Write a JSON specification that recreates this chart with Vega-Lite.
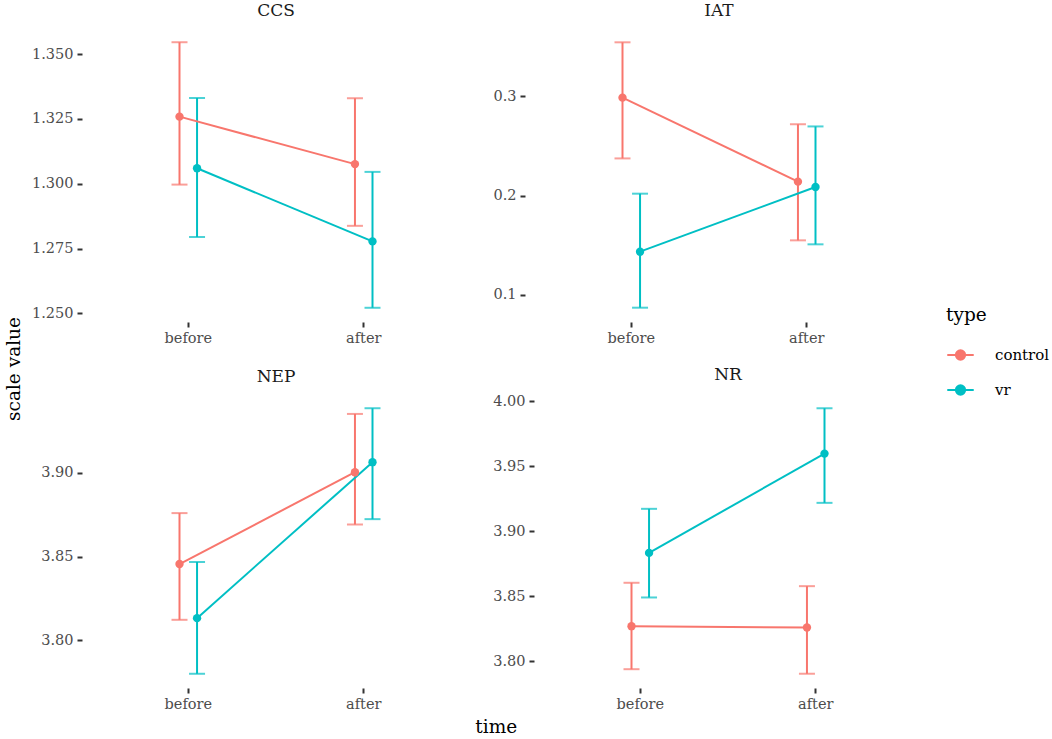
{
  "$schema": "https://vega.github.io/schema/vega-lite/v6.json",
  "background": "white",
  "padding": {"left": 4, "top": 2, "right": 5, "bottom": 0},
  "title": {"text": "scale value", "orient": "left", "anchor": "middle", "fontSize": 18.5, "font": "DejaVu Serif", "fontWeight": "normal", "color": "black", "offset": 8},
  "datasets": {
    "scores": [
      {"scale": "CCS", "time": "before", "type": "control", "mean": 1.3259, "lo": 1.2997, "hi": 1.3546},
      {"scale": "CCS", "time": "before", "type": "vr", "mean": 1.3060, "lo": 1.2795, "hi": 1.3331},
      {"scale": "CCS", "time": "after", "type": "control", "mean": 1.3076, "lo": 1.2838, "hi": 1.3330},
      {"scale": "CCS", "time": "after", "type": "vr", "mean": 1.2778, "lo": 1.2522, "hi": 1.3046},
      {"scale": "IAT", "time": "before", "type": "control", "mean": 0.2987, "lo": 0.2375, "hi": 0.3544},
      {"scale": "IAT", "time": "before", "type": "vr", "mean": 0.1436, "lo": 0.0872, "hi": 0.2020},
      {"scale": "IAT", "time": "after", "type": "control", "mean": 0.2141, "lo": 0.1550, "hi": 0.2719},
      {"scale": "IAT", "time": "after", "type": "vr", "mean": 0.2087, "lo": 0.1510, "hi": 0.2697},
      {"scale": "NEP", "time": "before", "type": "control", "mean": 3.8456, "lo": 3.8123, "hi": 3.8760},
      {"scale": "NEP", "time": "before", "type": "vr", "mean": 3.8133, "lo": 3.7801, "hi": 3.8468},
      {"scale": "NEP", "time": "after", "type": "control", "mean": 3.9004, "lo": 3.8692, "hi": 3.9352},
      {"scale": "NEP", "time": "after", "type": "vr", "mean": 3.9064, "lo": 3.8724, "hi": 3.9386},
      {"scale": "NR", "time": "before", "type": "control", "mean": 3.8269, "lo": 3.7938, "hi": 3.8603},
      {"scale": "NR", "time": "before", "type": "vr", "mean": 3.8833, "lo": 3.8490, "hi": 3.9172},
      {"scale": "NR", "time": "after", "type": "control", "mean": 3.8259, "lo": 3.7903, "hi": 3.8577},
      {"scale": "NR", "time": "after", "type": "vr", "mean": 3.9597, "lo": 3.9218, "hi": 3.9946}
    ]
  },
  "vconcat": [
    {
      "title": {"text": "time", "orient": "bottom", "anchor": "middle", "fontSize": 18.5, "font": "DejaVu Serif", "fontWeight": "normal", "color": "black", "offset": 7, "dx": 20},
      "spacing": 21,
      "vconcat": [
        {
          "spacing": 23,
          "hconcat": [
            {
              "title": "CCS",
              "width": 386,
              "height": 292,
              "data": {"name": "scores"},
              "transform": [{"filter": "datum.scale === 'CCS'"}],
              "encoding": {
                "x": {"field": "time", "type": "nominal", "sort": ["before", "after"], "scale": {"paddingInner": 0.8, "paddingOuter": 0.5}, "axis": {"title": null}},
                "xOffset": {"field": "type", "type": "nominal", "sort": ["control", "vr"], "scale": {"paddingInner": 0, "paddingOuter": 0}},
                "color": {"field": "type", "type": "nominal", "scale": {"domain": ["control", "vr"], "range": ["#F8766D", "#00BFC4"]}, "legend": {"title": "type"}}
              },
              "layer": [
                {"mark": {"type": "rule", "strokeWidth": 2}, "encoding": {"y": {"field": "lo", "type": "quantitative", "scale": {"domain": [1.2471, 1.3597], "nice": false, "zero": false}, "axis": {"title": null, "values": [1.25, 1.275, 1.3, 1.325, 1.35], "format": ".3f"}}, "y2": {"field": "hi"}}},
                {"mark": {"type": "tick", "size": 16, "thickness": 2}, "encoding": {"y": {"field": "lo", "type": "quantitative"}}},
                {"mark": {"type": "tick", "size": 16, "thickness": 2}, "encoding": {"y": {"field": "hi", "type": "quantitative"}}},
                {"mark": {"type": "line", "strokeWidth": 2}, "encoding": {"y": {"field": "mean", "type": "quantitative"}}},
                {"mark": {"type": "point", "filled": true, "size": 70, "opacity": 1}, "encoding": {"y": {"field": "mean", "type": "quantitative"}}}
              ]
            },
            {
              "title": "IAT",
              "width": 386,
              "height": 292,
              "data": {"name": "scores"},
              "transform": [{"filter": "datum.scale === 'IAT'"}],
              "encoding": {
                "x": {"field": "time", "type": "nominal", "sort": ["before", "after"], "scale": {"paddingInner": 0.8, "paddingOuter": 0.5}, "axis": {"title": null}},
                "xOffset": {"field": "type", "type": "nominal", "sort": ["control", "vr"], "scale": {"paddingInner": 0, "paddingOuter": 0}},
                "color": {"field": "type", "type": "nominal", "scale": {"domain": ["control", "vr"], "range": ["#F8766D", "#00BFC4"]}, "legend": {"title": "type"}}
              },
              "layer": [
                {"mark": {"type": "rule", "strokeWidth": 2}, "encoding": {"y": {"field": "lo", "type": "quantitative", "scale": {"domain": [0.0738, 0.3678], "nice": false, "zero": false}, "axis": {"title": null, "values": [0.1, 0.2, 0.3], "format": ".1f"}}, "y2": {"field": "hi"}}},
                {"mark": {"type": "tick", "size": 16, "thickness": 2}, "encoding": {"y": {"field": "lo", "type": "quantitative"}}},
                {"mark": {"type": "tick", "size": 16, "thickness": 2}, "encoding": {"y": {"field": "hi", "type": "quantitative"}}},
                {"mark": {"type": "line", "strokeWidth": 2}, "encoding": {"y": {"field": "mean", "type": "quantitative"}}},
                {"mark": {"type": "point", "filled": true, "size": 70, "opacity": 1}, "encoding": {"y": {"field": "mean", "type": "quantitative"}}}
              ]
            }
          ]
        },
        {
          "spacing": 23,
          "hconcat": [
            {
              "title": "NEP",
              "width": 386,
              "height": 292,
              "data": {"name": "scores"},
              "transform": [{"filter": "datum.scale === 'NEP'"}],
              "encoding": {
                "x": {"field": "time", "type": "nominal", "sort": ["before", "after"], "scale": {"paddingInner": 0.8, "paddingOuter": 0.5}, "axis": {"title": null}},
                "xOffset": {"field": "type", "type": "nominal", "sort": ["control", "vr"], "scale": {"paddingInner": 0, "paddingOuter": 0}},
                "color": {"field": "type", "type": "nominal", "scale": {"domain": ["control", "vr"], "range": ["#F8766D", "#00BFC4"]}, "legend": {"title": "type"}}
              },
              "layer": [
                {"mark": {"type": "rule", "strokeWidth": 2}, "encoding": {"y": {"field": "lo", "type": "quantitative", "scale": {"domain": [3.7722, 3.9465], "nice": false, "zero": false}, "axis": {"title": null, "values": [3.8, 3.85, 3.9], "format": ".2f"}}, "y2": {"field": "hi"}}},
                {"mark": {"type": "tick", "size": 16, "thickness": 2}, "encoding": {"y": {"field": "lo", "type": "quantitative"}}},
                {"mark": {"type": "tick", "size": 16, "thickness": 2}, "encoding": {"y": {"field": "hi", "type": "quantitative"}}},
                {"mark": {"type": "line", "strokeWidth": 2}, "encoding": {"y": {"field": "mean", "type": "quantitative"}}},
                {"mark": {"type": "point", "filled": true, "size": 70, "opacity": 1}, "encoding": {"y": {"field": "mean", "type": "quantitative"}}}
              ]
            },
            {
              "title": "NR",
              "width": 386,
              "height": 292,
              "data": {"name": "scores"},
              "transform": [{"filter": "datum.scale === 'NR'"}],
              "encoding": {
                "x": {"field": "time", "type": "nominal", "sort": ["before", "after"], "scale": {"paddingInner": 0.8, "paddingOuter": 0.5}, "axis": {"title": null}},
                "xOffset": {"field": "type", "type": "nominal", "sort": ["control", "vr"], "scale": {"paddingInner": 0, "paddingOuter": 0}},
                "color": {"field": "type", "type": "nominal", "scale": {"domain": ["control", "vr"], "range": ["#F8766D", "#00BFC4"]}, "legend": {"title": "type"}}
              },
              "layer": [
                {"mark": {"type": "rule", "strokeWidth": 2}, "encoding": {"y": {"field": "lo", "type": "quantitative", "scale": {"domain": [3.7801, 4.0048], "nice": false, "zero": false}, "axis": {"title": null, "values": [3.8, 3.85, 3.9, 3.95, 4.0], "format": ".2f"}}, "y2": {"field": "hi"}}},
                {"mark": {"type": "tick", "size": 16, "thickness": 2}, "encoding": {"y": {"field": "lo", "type": "quantitative"}}},
                {"mark": {"type": "tick", "size": 16, "thickness": 2}, "encoding": {"y": {"field": "hi", "type": "quantitative"}}},
                {"mark": {"type": "line", "strokeWidth": 2}, "encoding": {"y": {"field": "mean", "type": "quantitative"}}},
                {"mark": {"type": "point", "filled": true, "size": 70, "opacity": 1}, "encoding": {"y": {"field": "mean", "type": "quantitative"}}}
              ]
            }
          ]
        }
      ]
    }
  ],
  "config": {
    "view": {"stroke": null},
    "font": "DejaVu Serif",
    "title": {"fontSize": 17, "fontWeight": "normal", "color": "#1a1a1a", "font": "DejaVu Serif", "offset": 9},
    "axis": {
      "domain": false,
      "grid": false,
      "ticks": true,
      "tickSize": 5,
      "tickWidth": 2,
      "tickColor": "#333333",
      "labelFont": "DejaVu Serif",
      "labelFontSize": 14.5,
      "labelColor": "#4d4d4d",
      "labelPadding": 4,
      "labelAngle": 0,
      "offset": 1
    },
    "legend": {
      "orient": "none",
      "legendX": 863,
      "legendY": 277,
      "titleFont": "DejaVu Serif",
      "titleFontSize": 18.5,
      "titleFontWeight": "normal",
      "titleColor": "black",
      "labelFont": "DejaVu Serif",
      "labelFontSize": 15,
      "labelColor": "black",
      "labelOffset": 20,
      "symbolType": "M-1,0L1,0M-0.35,0A0.35,0.35 0 1,0 0.35,0A0.35,0.35 0 1,0 -0.35,0Z",
      "symbolSize": 700,
      "symbolStrokeWidth": 2,
      "symbolOpacity": 1,
      "rowPadding": 11,
      "titlePadding": 16
    }
  }
}
